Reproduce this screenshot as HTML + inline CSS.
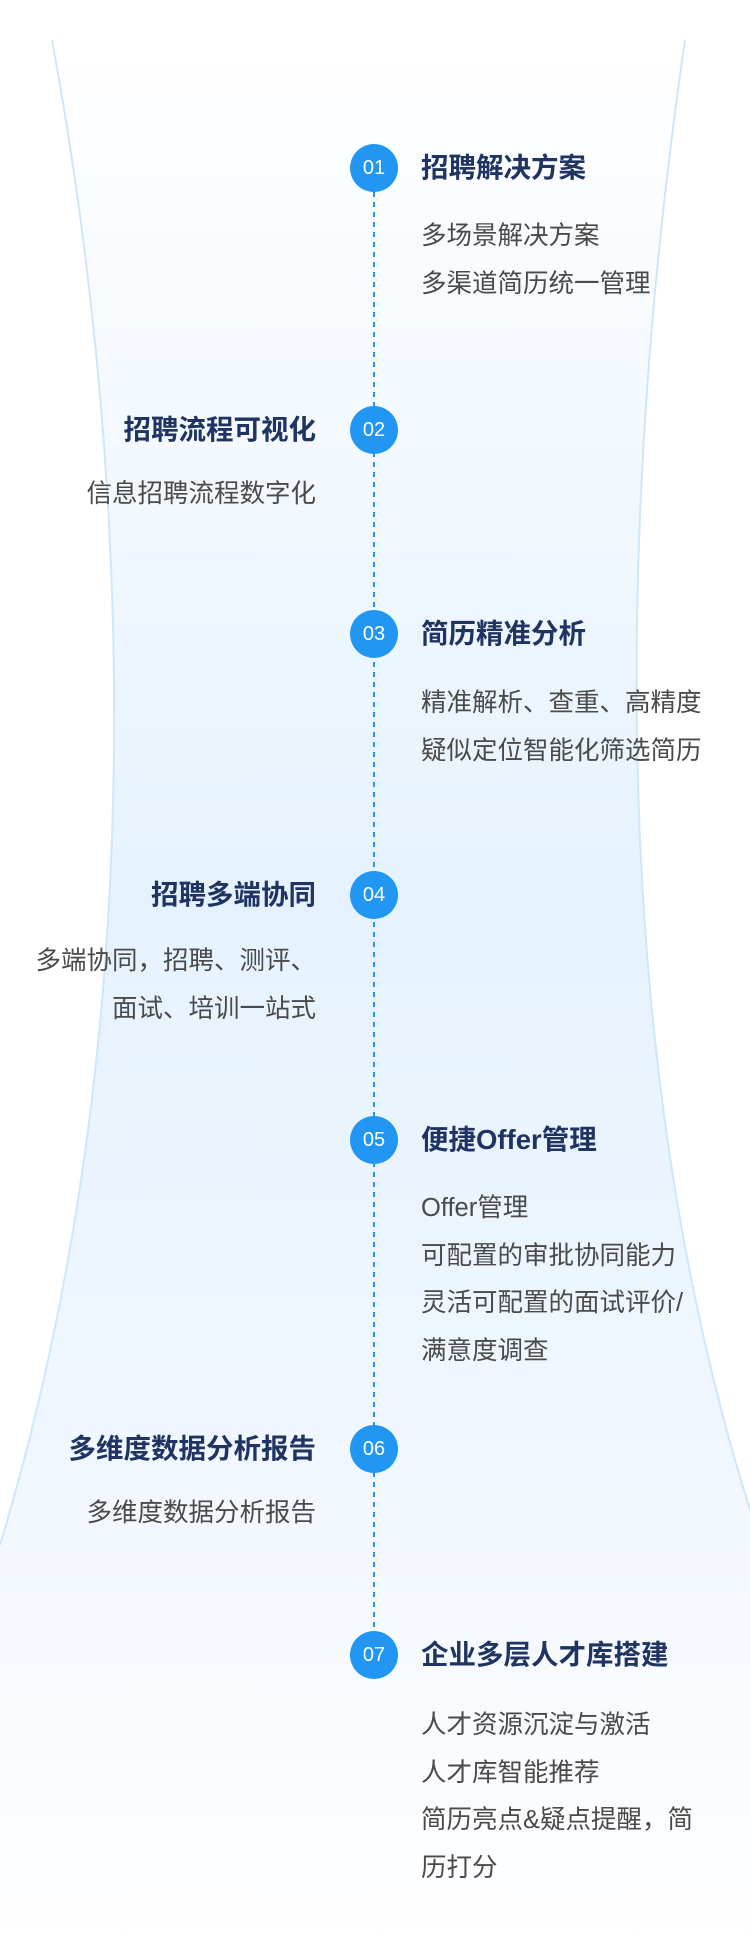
<!DOCTYPE html>
<html><head><meta charset="utf-8"><style>
body{margin:0;width:750px;height:1952px;position:relative;background:#fff;overflow:hidden;font-family:"Liberation Sans","Noto Sans CJK SC",sans-serif}
.c{position:absolute;left:350px;width:48px;height:48px;border-radius:50%;background:#2196f3;color:#fff;font-size:20px;line-height:48px;text-align:center}
.t{position:absolute;font-size:27.5px;font-weight:bold;color:#1f3462;line-height:40px;white-space:nowrap}
.b{position:absolute;font-size:25.5px;color:#4a4a4a;line-height:47.5px;white-space:nowrap}
.r{left:-84px;width:400px;text-align:right}
.l{left:421px}
</style></head><body>
<svg width="750" height="1952" style="position:absolute;left:0;top:0">
<defs><linearGradient id="g" x1="0" y1="0" x2="0" y2="1">
<stop offset="0" stop-color="#ffffff"/><stop offset="0.45" stop-color="#e5f2fd"/><stop offset="0.75" stop-color="#f1f7fe"/><stop offset="1" stop-color="#ffffff"/></linearGradient></defs>
<path d="M52,40 C122,420 165,1000 0,1545 L0,1952 L750,1952 L750,1510 C590,1000 630,420 685,40 Z" fill="url(#g)"/>
<path d="M52,40 C122,420 165,1000 0,1545" fill="none" stroke="#cfe7fb" stroke-width="2"/>
<path d="M685,40 C630,420 590,1000 750,1510" fill="none" stroke="#cfe7fb" stroke-width="2"/>
<line x1="374" y1="192" x2="374" y2="1631" stroke="#2196f3" stroke-width="2" stroke-dasharray="5,5"/>
</svg>
<div class="c" style="top:144px">01</div>
<div class="c" style="top:406px">02</div>
<div class="c" style="top:610px">03</div>
<div class="c" style="top:871px">04</div>
<div class="c" style="top:1116px">05</div>
<div class="c" style="top:1425px">06</div>
<div class="c" style="top:1631px">07</div>

<div class="t l" style="top:148px">招聘解决方案</div>
<div class="b l" style="top:213px">多场景解决方案<br>多渠道简历统一管理</div>

<div class="t r" style="top:410px">招聘流程可视化</div>
<div class="b r" style="top:471px">信息招聘流程数字化</div>

<div class="t l" style="top:614px">简历精准分析</div>
<div class="b l" style="top:680px">精准解析、查重、高精度<br>疑似定位智能化筛选简历</div>

<div class="t r" style="top:875px">招聘多端协同</div>
<div class="b r" style="top:938px">多端协同，招聘、测评、<br>面试、培训一站式</div>

<div class="t l" style="top:1120px">便捷Offer管理</div>
<div class="b l" style="top:1185px">Offer管理<br>可配置的审批协同能力<br>灵活可配置的面试评价/<br>满意度调查</div>

<div class="t r" style="top:1429px">多维度数据分析报告</div>
<div class="b r" style="top:1490px">多维度数据分析报告</div>

<div class="t l" style="top:1635px">企业多层人才库搭建</div>
<div class="b l" style="top:1702px">人才资源沉淀与激活<br>人才库智能推荐<br>简历亮点&amp;疑点提醒，简<br>历打分</div>
</body></html>
